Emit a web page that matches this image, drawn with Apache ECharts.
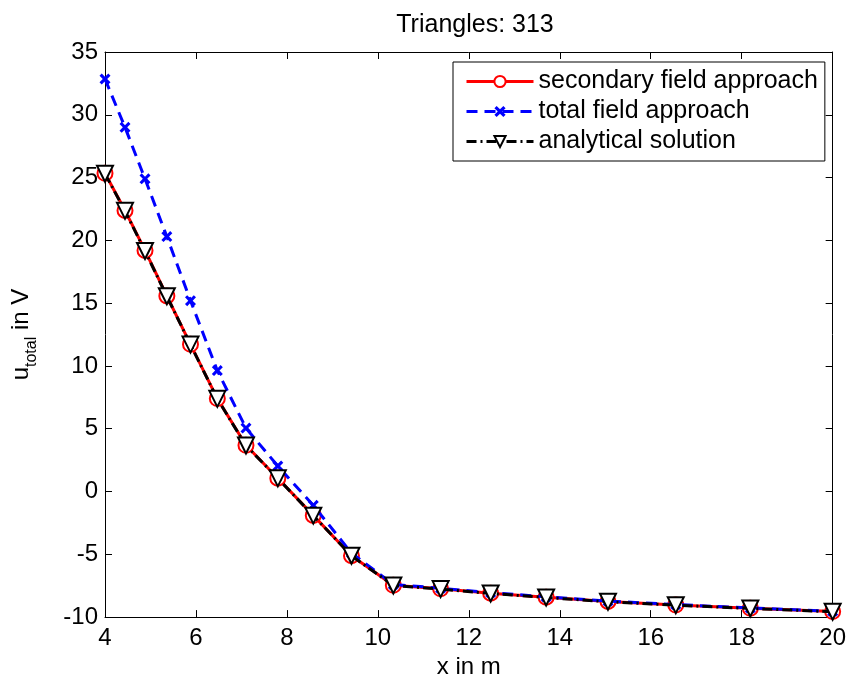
<!DOCTYPE html>
<html><head><meta charset="utf-8">
<script src="https://cdn.jsdelivr.net/npm/echarts@6/dist/echarts.min.js"></script>
<style>html,body{margin:0;padding:0;background:#fff}#c{width:849px;height:684px}</style>
</head><body><div id="c"></div>
<script>
const xValues = [4, 4.44, 4.88, 5.36, 5.88, 6.47, 7.1, 7.8, 8.58, 9.42, 10.34, 11.38, 12.48, 13.7, 15.06, 16.55, 18.19, 20];
const secondary = [25.34, 22.38, 19.2, 15.57, 11.72, 7.4, 3.68, 1.06, -1.9, -5.11, -7.47, -7.75, -8.1, -8.42, -8.76, -9.04, -9.3, -9.56];
const total = [32.85, 29.0, 24.9, 20.3, 15.2, 9.63, 5.05, 2.03, -1.1, -4.9, -7.4, -7.7, -8.05, -8.38, -8.72, -9.0, -9.27, -9.54];
const analytical = [25.3, 22.35, 19.15, 15.55, 11.7, 7.38, 3.66, 1.05, -1.92, -5.12, -7.48, -7.77, -8.12, -8.44, -8.78, -9.05, -9.31, -9.57];
const seriesNames = ['secondary field approach', 'total field approach', 'analytical solution'];
const xTicks = {min: 4, max: 20, interval: 2};
const yTicks = {min: -10, max: 35, interval: 5};

const font = 'Liberation Sans, Arial, Helvetica, sans-serif';
const FS = 24;
const pair = arr => xValues.map((x, i) => [x, arr[i]]);
const xMark = 'path://M2,0 L5,3 L8,0 L10,2 L7,5 L10,8 L8,10 L5,7 L2,10 L0,8 L3,5 L0,2 Z';

const chart = echarts.init(document.getElementById('c'), null, {renderer: 'canvas'});
const axisCommon = {
  axisLine: {show: true, onZero: false, lineStyle: {color: '#000', width: 1}},
  axisTick: {show: true, inside: true, length: 7, lineStyle: {color: '#000'}},
  splitLine: {show: false}
};
chart.setOption({
  animation: false,
  textStyle: {fontFamily: font},
  title: {text: 'Triangles: 313', left: 470, textAlign: 'center', top: 8,
    textStyle: {fontFamily: font, fontSize: 25, fontWeight: 'normal', color: '#000'}},
  grid: {left: 105, top: 52, right: 16, bottom: 59, containLabel: false},
  legend: {
    orient: 'vertical', left: 453, top: 62,
    backgroundColor: '#fff', borderColor: '#000', borderWidth: 1,
    padding: [7, 7, 7, 12], itemGap: 5, itemWidth: 67, itemHeight: 14,
    lineStyle: {width: 3},
    textStyle: {fontFamily: font, fontSize: 25, color: '#000'},
    data: seriesNames
  },
  xAxis: [
    Object.assign({type: 'value', position: 'bottom', min: xTicks.min, max: xTicks.max, interval: xTicks.interval,
      name: 'x in m', nameLocation: 'middle', nameGap: 36,
      nameTextStyle: {fontFamily: font, fontSize: FS, color: '#000'},
      axisLabel: {fontFamily: font, fontSize: FS, color: '#000', margin: 9}}, axisCommon),
    Object.assign({type: 'value', position: 'top', min: xTicks.min, max: xTicks.max, interval: xTicks.interval,
      axisLabel: {show: false}}, axisCommon)
  ],
  yAxis: [
    Object.assign({type: 'value', position: 'left', min: yTicks.min, max: yTicks.max, interval: yTicks.interval,
      name: '{a|u}{s|total}{a| in V}', nameLocation: 'middle', nameGap: 50, nameRotate: 90,
      nameTextStyle: {fontFamily: font, color: '#000',
        rich: {a: {fontFamily: font, fontSize: FS, color: '#000', lineHeight: 24, verticalAlign: 'top'},
               s: {fontFamily: font, fontSize: 16, color: '#000', lineHeight: 46, verticalAlign: 'middle'}}},
      axisLabel: {fontFamily: font, fontSize: FS, color: '#000', margin: 7}}, axisCommon),
    Object.assign({type: 'value', position: 'right', min: yTicks.min, max: yTicks.max, interval: yTicks.interval,
      axisLabel: {show: false}}, axisCommon)
  ],
  series: [
    {name: seriesNames[0], type: 'line', data: pair(secondary), z: 2,
      lineStyle: {color: '#ff0000', width: 3}, itemStyle: {color: '#ff0000', borderColor: '#ff0000', borderWidth: 3},
      symbol: 'emptyCircle', symbolSize: 15, showAllSymbol: true},
    {name: seriesNames[1], type: 'line', data: pair(total), z: 3,
      lineStyle: {color: '#0000ff', width: 3, type: [11, 7]}, itemStyle: {color: '#0000ff'},
      symbol: xMark, symbolSize: 11, showAllSymbol: true},
    {name: seriesNames[2], type: 'line', data: pair(analytical), z: 4,
      lineStyle: {color: '#000', width: 3, type: [10, 4, 2, 4]}, itemStyle: {color: '#000', borderColor: '#000', borderWidth: 5},
      symbol: 'emptyTriangle', symbolRotate: 180, symbolSize: 16, showAllSymbol: true}
  ]
});
</script></body></html>
